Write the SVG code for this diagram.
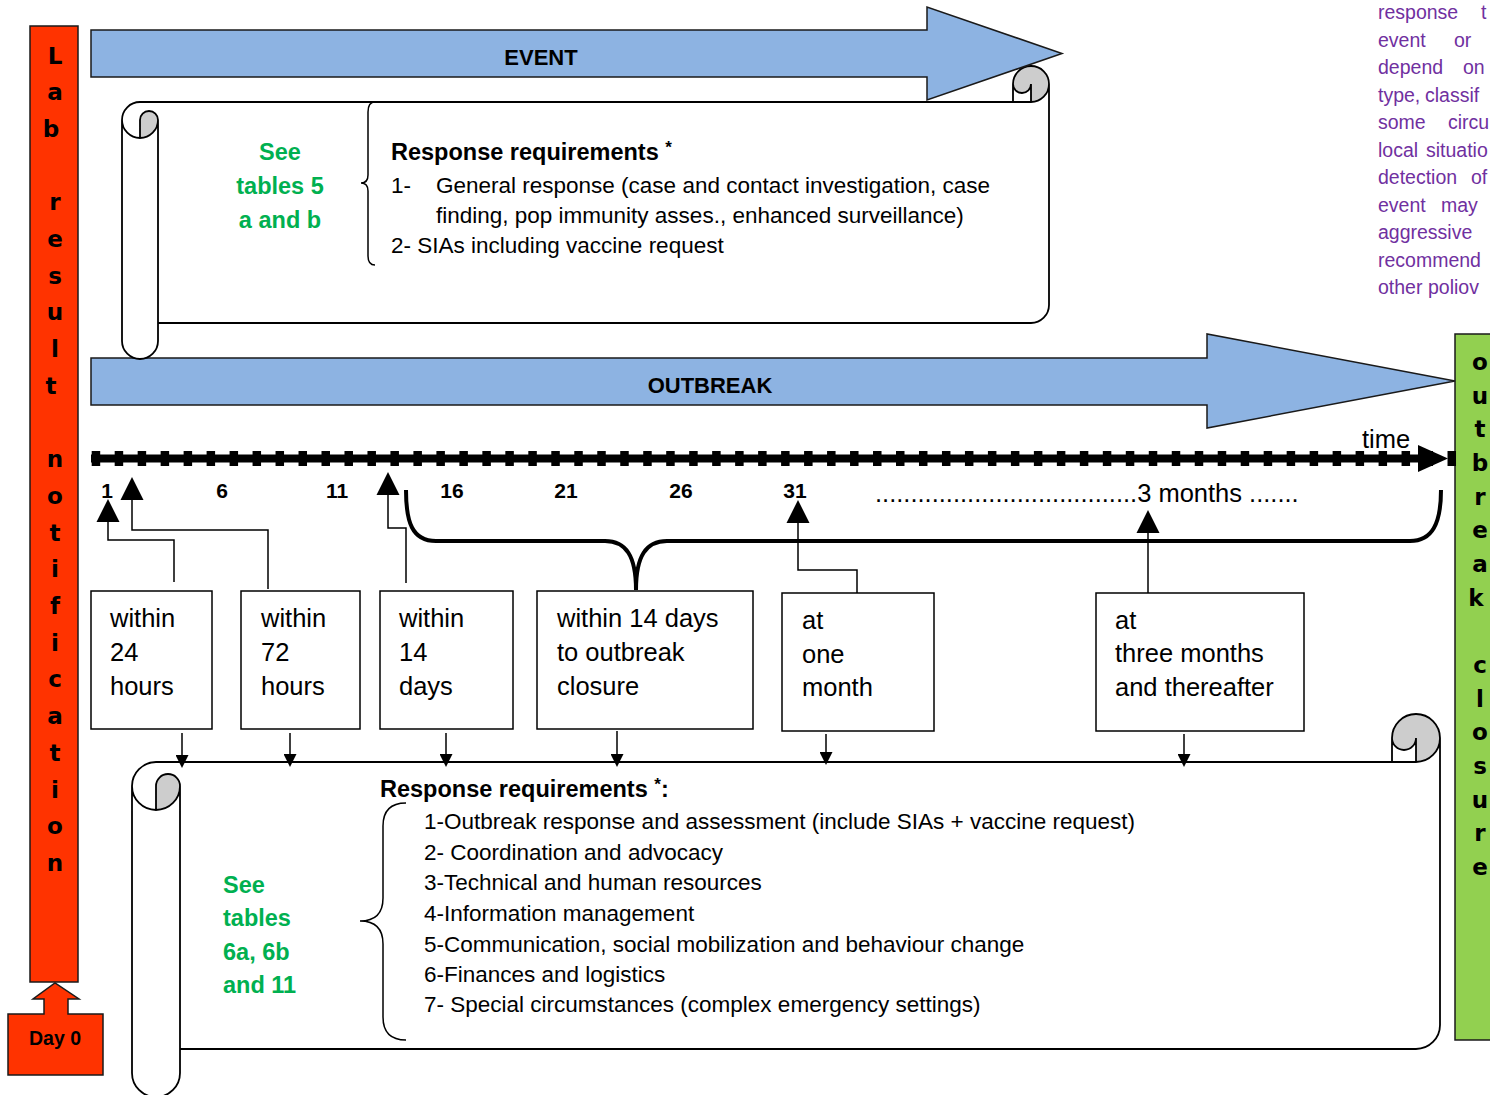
<svg xmlns="http://www.w3.org/2000/svg" width="1490" height="1095" viewBox="0 0 1490 1095">
<style>
  .t{font-family:"Liberation Sans",Arial,sans-serif;fill:#000}
  .bx{font-size:25.5px}
  .body{font-size:22.5px}
  .hd{font-size:23.5px;font-weight:bold}
  .num{font-size:21px;font-weight:bold;text-anchor:middle}
  .grn{font-size:23.5px;font-weight:bold;fill:#00B050}
  .pur{font-size:19.5px;fill:#7030A0}
  .vert{font-family:"DejaVu Sans",sans-serif;font-weight:bold;font-size:23px;text-anchor:middle;fill:#000}
  .band{fill:#8DB3E2;stroke:#1a1a1a;stroke-width:1.5}
  .box{fill:#fff;stroke:#000;stroke-width:1.5}
  .paper{fill:#fff}
  .curl{fill:#CDCDCD}
  .edge{fill:none;stroke:#000;stroke-width:1.8}
  .conn{fill:none;stroke:#000;stroke-width:1.5}
  .brace{fill:none;stroke:#000;stroke-width:1.5}
  .span-brace{fill:none;stroke:#000;stroke-width:4}
</style>
<defs>
  <marker id="headUp" viewBox="0 0 10 10" refX="0" refY="5" markerUnits="userSpaceOnUse" markerWidth="23" markerHeight="24" orient="auto">
    <path d="M0,0 L10,5 L0,10 Z" fill="#000"/>
  </marker>
  <marker id="headDown" viewBox="0 0 10 10" refX="0" refY="5" markerUnits="userSpaceOnUse" markerWidth="14" markerHeight="13" orient="auto">
    <path d="M0,0 L10,5 L0,10 Z" fill="#000"/>
  </marker>
</defs>

<!-- Lab result notification bar -->
<g id="lab-result">
  <rect x="30" y="26" width="48" height="956" fill="#FF3300" stroke="#1a1a1a" stroke-width="1.5"/>
  <text class="vert">
    <tspan x="55" y="63.5">L</tspan><tspan x="55" y="100.2">a</tspan><tspan x="55" y="136.9">b</tspan>
    <tspan x="55" y="210.3">r</tspan><tspan x="55" y="247">e</tspan><tspan x="55" y="283.7">s</tspan><tspan x="55" y="320.4">u</tspan><tspan x="55" y="357.1">l</tspan><tspan x="55" y="393.8">t</tspan>
    <tspan x="55" y="467.2">n</tspan><tspan x="55" y="503.9">o</tspan><tspan x="55" y="540.6">t</tspan><tspan x="55" y="577.3">i</tspan><tspan x="55" y="614">f</tspan><tspan x="55" y="650.7">i</tspan><tspan x="55" y="687.4">c</tspan><tspan x="55" y="724.1">a</tspan><tspan x="55" y="760.8">t</tspan><tspan x="55" y="797.5">i</tspan><tspan x="55" y="834.2">o</tspan><tspan x="55" y="870.9">n</tspan>
  </text>
</g>

<!-- Day 0 block arrow -->
<g id="day0">
  <path d="M8,1014 H44 V999 H33 L55,983 L79,999 H68 V1014 H103 V1075 H8 Z" fill="#FF3300" stroke="#1a1a1a" stroke-width="1.5"/>
  <text class="t" x="55" y="1045" font-size="19.5" font-weight="bold" text-anchor="middle">Day 0</text>
</g>

<!-- Outbreak closure bar -->
<g id="outbreak-closure">
  <rect x="1455" y="334" width="45" height="706" fill="#92D050" stroke="#1a1a1a" stroke-width="1.5"/>
  <text class="vert">
    <tspan x="1480" y="370">o</tspan><tspan x="1480" y="403.7">u</tspan><tspan x="1480" y="437.3">t</tspan><tspan x="1480" y="471">b</tspan><tspan x="1480" y="504.7">r</tspan><tspan x="1480" y="538.4">e</tspan><tspan x="1480" y="572">a</tspan><tspan x="1480" y="605.7">k</tspan>
    <tspan x="1480" y="673">c</tspan><tspan x="1480" y="706.7">l</tspan><tspan x="1480" y="740.4">o</tspan><tspan x="1480" y="774">s</tspan><tspan x="1480" y="807.7">u</tspan><tspan x="1480" y="841.4">r</tspan><tspan x="1480" y="875">e</tspan>
  </text>
</g>

<!-- Side note paragraph (runs off the right edge) -->
<g id="side-note">
  <text class="t pur">
    <tspan x="1378" y="19">response</tspan><tspan x="1481" y="19">t</tspan>
    <tspan x="1378" y="46.5">event</tspan><tspan x="1454" y="46.5">or</tspan>
    <tspan x="1378" y="74">depend</tspan><tspan x="1463" y="74">on</tspan>
    <tspan x="1378" y="101.5">type,</tspan><tspan x="1425" y="101.5">classif</tspan>
    <tspan x="1378" y="129">some</tspan><tspan x="1448" y="129">circu</tspan>
    <tspan x="1378" y="156.5">local</tspan><tspan x="1426" y="156.5">situatio</tspan>
    <tspan x="1378" y="184">detection</tspan><tspan x="1471" y="184">of</tspan>
    <tspan x="1378" y="211.5">event</tspan><tspan x="1441" y="211.5">may</tspan>
    <tspan x="1378" y="239">aggressive</tspan>
    <tspan x="1378" y="266.5">recommend</tspan>
    <tspan x="1378" y="294">other</tspan><tspan x="1428" y="294">poliov</tspan>
  </text>
</g>

<!-- OUTBREAK band -->
<g id="outbreak">
  <polygon class="band" points="91,358 1207,358 1207,334 1455,381 1207,428 1207,405 91,405"/>
  <text class="t" x="710" y="393" font-size="22" font-weight="bold" text-anchor="middle">OUTBREAK</text>
</g>

<!-- Event response scroll -->
<g id="event-scroll">
  <path class="paper" d="M1049,84 A18,18 0 0 1 1031,102 L1031,84 A9,9 0 0 1 1013,84 L140,102 A18,18 0 0 0 122,120 L122,341 A18,18 0 0 0 158,341 L158,323 L1031,323 A18,18 0 0 0 1049,305 Z M140,138 A18,18 0 0 0 158,120 A9,9 0 0 1 140,120 Z"/>
  <path class="curl" d="M140,138 A18,18 0 0 0 158,120 A9,9 0 0 0 140,120 Z M1031,102 A18,18 0 1 0 1013,84 A9,9 0 0 0 1031,84 Z"/>
  <path class="edge" d="M122,120 A18,18 0 0 1 140,102 L1013,102 L1013,84 A18,18 0 0 1 1049,84 L1049,305 A18,18 0 0 1 1031,323 L158,323 L158,341 A18,18 0 0 1 122,341 Z M1013,102 L1031,102 A18,18 0 0 0 1049,84 M1031,102 L1031,84 A9,9 0 0 1 1013,84 M140,138 L140,120 A9,9 0 0 1 158,120 A18,18 0 0 1 122,120 M158,120 L158,323"/>
  <text class="t grn" text-anchor="middle"><tspan x="280" y="160">See</tspan><tspan x="280" y="194">tables 5</tspan><tspan x="280" y="228">a and b</tspan></text>
  <path class="brace" d="M375,102 Q368,102 368,112 L368,175 Q368,183 361,183 Q368,183 368,191 L368,256 Q368,265 375,265"/>
  <text class="t hd" x="391" y="160">Response requirements <tspan font-size="17" dy="-7">*</tspan></text>
  <text class="t body" x="391" y="193">1-</text>
  <text class="t body" x="436" y="193">General response (case and contact investigation, case</text>
  <text class="t body" x="436" y="223">finding, pop immunity asses., enhanced surveillance)</text>
  <text class="t body" x="391" y="253">2- SIAs including vaccine request</text>
</g>

<!-- EVENT band -->
<g id="event">
  <polygon class="band" points="91,30 927,30 927,7 1062,53.5 927,100 927,77 91,77"/>
  <text class="t" x="541" y="65" font-size="22" font-weight="bold" text-anchor="middle">EVENT</text>
</g>

<!-- Time axis -->
<g id="time-axis">
  <line x1="91" y1="458.5" x2="1425" y2="458.5" stroke="#000" stroke-width="8"/>
  <line x1="91.7" y1="458.5" x2="1457" y2="458.5" stroke="#000" stroke-width="15" stroke-dasharray="8.5 14.48"/>
  <polygon points="1418,445 1448,458.5 1418,472" fill="#000"/>
  <text class="t" x="1362" y="448" font-size="25.5">time</text>
  <text class="t num"><tspan x="107" y="498">1</tspan><tspan x="222" y="498">6</tspan><tspan x="337" y="498">11</tspan><tspan x="452" y="498">16</tspan><tspan x="566" y="498">21</tspan><tspan x="681" y="498">26</tspan><tspan x="795" y="498">31</tspan></text>
  <text class="t bx" x="875" y="502">.....................................3 months .......</text>
</g>

<!-- Reporting deadline boxes -->
<g id="within-24h">
  <rect class="box" x="91" y="591" width="121" height="138"/>
  <text class="t bx"><tspan x="110" y="627">within</tspan><tspan x="110" y="661">24</tspan><tspan x="110" y="695">hours</tspan></text>
</g>
<g id="within-72h">
  <rect class="box" x="241" y="591" width="119" height="138"/>
  <text class="t bx"><tspan x="261" y="627">within</tspan><tspan x="261" y="661">72</tspan><tspan x="261" y="695">hours</tspan></text>
</g>
<g id="within-14d">
  <rect class="box" x="380" y="591" width="133" height="138"/>
  <text class="t bx"><tspan x="399" y="627">within</tspan><tspan x="399" y="661">14</tspan><tspan x="399" y="695">days</tspan></text>
</g>
<g id="within-14d-closure">
  <rect class="box" x="537" y="591" width="216" height="138"/>
  <text class="t bx"><tspan x="557" y="627">within 14 days</tspan><tspan x="557" y="661">to outbreak</tspan><tspan x="557" y="695">closure</tspan></text>
</g>
<g id="one-month">
  <rect class="box" x="782" y="593" width="152" height="138"/>
  <text class="t bx"><tspan x="802" y="629">at</tspan><tspan x="802" y="663">one</tspan><tspan x="802" y="696">month</tspan></text>
</g>
<g id="three-months">
  <rect class="box" x="1096" y="593" width="208" height="138"/>
  <text class="t bx"><tspan x="1115" y="629">at</tspan><tspan x="1115" y="662">three months</tspan><tspan x="1115" y="696">and thereafter</tspan></text>
</g>

<!-- Outbreak response scroll -->
<g id="outbreak-scroll">
  <path class="paper" d="M1440,738 A24,24 0 0 1 1416,762 L1416,738 A12,12 0 0 1 1392,738 L156,762 A24,24 0 0 0 132,786 L132,1073 A24,24 0 0 0 180,1073 L180,1049 L1416,1049 A24,24 0 0 0 1440,1025 Z M156,810 A24,24 0 0 0 180,786 A12,12 0 0 1 156,786 Z"/>
  <path class="curl" d="M156,810 A24,24 0 0 0 180,786 A12,12 0 0 0 156,786 Z M1416,762 A24,24 0 1 0 1392,738 A12,12 0 0 0 1416,738 Z"/>
  <path class="edge" d="M132,786 A24,24 0 0 1 156,762 L1392,762 L1392,738 A24,24 0 0 1 1440,738 L1440,1025 A24,24 0 0 1 1416,1049 L180,1049 L180,1073 A24,24 0 0 1 132,1073 Z M1392,762 L1416,762 A24,24 0 0 0 1440,738 M1416,762 L1416,738 A12,12 0 0 1 1392,738 M156,810 L156,786 A12,12 0 0 1 180,786 A24,24 0 0 1 132,786 M180,786 L180,1049"/>
  <text class="t grn" font-size="24"><tspan x="223" y="893">See</tspan><tspan x="223" y="926">tables</tspan><tspan x="223" y="960">6a, 6b</tspan><tspan x="223" y="993">and 11</tspan></text>
  <path class="brace" d="M406,803 Q383,803 383,826 L383,898 Q383,921 360,921 Q383,921 383,944 L383,1017 Q383,1040 406,1040"/>
  <text class="t hd" x="380" y="797">Response requirements <tspan font-size="17" dy="-7">*</tspan><tspan dy="7">:</tspan></text>
  <text class="t body">
    <tspan x="424" y="829">1-Outbreak response and assessment (include SIAs + vaccine request)</tspan>
    <tspan x="424" y="860">2- Coordination and advocacy</tspan>
    <tspan x="424" y="890">3-Technical and human resources</tspan>
    <tspan x="424" y="921">4-Information management</tspan>
    <tspan x="424" y="952">5-Communication, social mobilization and behaviour change</tspan>
    <tspan x="424" y="982">6-Finances and logistics</tspan>
    <tspan x="424" y="1012">7- Special circumstances (complex emergency settings)</tspan>
  </text>
</g>

<!-- Connectors -->
<g id="connectors">
  <path class="span-brace" d="M406,490 C406,522 412,541 436,541 L605,541 C626,541 636,556 636,590 C636,556 646,541 667,541 L1410,541 C1432,541 1441,524 1441,490"/>
  <path class="conn" marker-end="url(#headUp)" d="M174,582 V540 H108 V522"/>
  <path class="conn" marker-end="url(#headUp)" d="M268,589 V530 H132 V500"/>
  <path class="conn" marker-end="url(#headUp)" d="M406,583 V528 H388 V495"/>
  <path class="conn" marker-end="url(#headUp)" d="M857,593 V570 H798 V523"/>
  <path class="conn" marker-end="url(#headUp)" d="M1148,593 V533"/>
  <path class="conn" marker-end="url(#headDown)" d="M182,733 V755"/>
  <path class="conn" marker-end="url(#headDown)" d="M290,733 V754"/>
  <path class="conn" marker-end="url(#headDown)" d="M446,733 V754"/>
  <path class="conn" marker-end="url(#headDown)" d="M617,731 V754"/>
  <path class="conn" marker-end="url(#headDown)" d="M826,734 V752"/>
  <path class="conn" marker-end="url(#headDown)" d="M1184,734 V754"/>
</g>
</svg>
